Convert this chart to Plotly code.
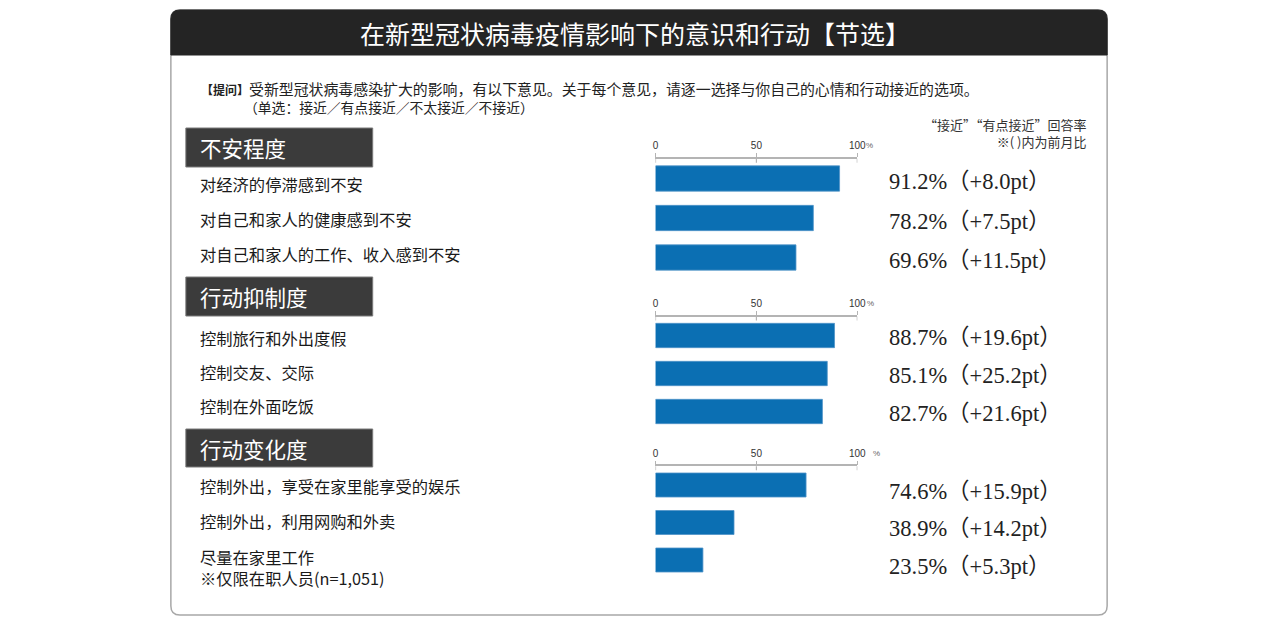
import plotly.graph_objects as go

W, H = 1280, 625
# the page comes out squeezed a little horizontally, so lay out on a slightly wider canvas
FW = 1291
XOFF = -2

title = "在新型冠状病毒疫情影响下的意识和行动【节选】"
q_tag = "【提问】"
question = "受新型冠状病毒感染扩大的影响，有以下意见。关于每个意见，请逐一选择与你自己的心情和行动接近的选项。"
question2 = "（单选：接近／有点接近／不太接近／不接近）"
note1 = "“接近”“有点接近”回答率"
note2 = "※( )内为前月比"

sections = ["不安程度", "行动抑制度", "行动变化度"]

items_anxiety = ["对经济的停滞感到不安", "对自己和家人的健康感到不安", "对自己和家人的工作、收入感到不安"]
pct_anxiety = [91.2, 78.2, 69.6]
diff_anxiety = [8.0, 7.5, 11.5]

items_restraint = ["控制旅行和外出度假", "控制交友、交际", "控制在外面吃饭"]
pct_restraint = [88.7, 85.1, 82.7]
diff_restraint = [19.6, 25.2, 21.6]

items_change = ["控制外出，享受在家里能享受的娱乐", "控制外出，利用网购和外卖", "尽量在家里工作<br>※仅限在职人员(n=1,051)"]
pct_change = [74.6, 38.9, 23.5]
diff_change = [15.9, 14.2, 5.3]

tick_vals = [0, 50, 100]
tick_text = ["0", "50", "100"]

# pixel layout of each block (top of bar area, row step, header box, label rows)
blocks = [
    dict(items=items_anxiety, pct=pct_anxiety, diff=diff_anxiety,
         top=158.75, step=39.5, head=(128, 167), label_y=[184, 219, 254], shift=-3, pctx=869),
    dict(items=items_restraint, pct=pct_restraint, diff=diff_restraint,
         top=316.5, step=38, head=(277, 316), label_y=[338, 372, 406], shift=-2, pctx=870),
    dict(items=items_change, pct=pct_change, diff=diff_change,
         top=466.25, step=37.5, head=(429, 467), label_y=[486, 521, 567], shift=-6, pctx=876),
]

BAR = "#0b6fb3"
AXIS = "#b4b4b4"
CJK = "Noto Sans CJK SC"


def px(x):
    return (x + XOFF) / W


def py(y):
    return 1 - y / H


def pt(x, y):
    return f"{px(x):.5f},{py(y):.5f}"


def rounded(x0, y0, x1, y1, r, bottom=True):
    p = f"M {pt(x0 + r, y0)} L {pt(x1 - r, y0)} Q {pt(x1, y0)} {pt(x1, y0 + r)} "
    if bottom:
        p += f"L {pt(x1, y1 - r)} Q {pt(x1, y1)} {pt(x1 - r, y1)} L {pt(x0 + r, y1)} Q {pt(x0, y1)} {pt(x0, y1 - r)} "
    else:
        p += f"L {pt(x1, y1)} L {pt(x0, y1)} "
    p += f"L {pt(x0, y0 + r)} Q {pt(x0, y0)} {pt(x0 + r, y0)} Z"
    return p


def note(text, x, y, size, color="#222", anchor="left", family=CJK, align="left"):
    return dict(text=text, x=px(x), y=py(y), xref="paper", yref="paper",
                showarrow=False, xanchor=anchor, yanchor="middle", align=align,
                font=dict(family=family, size=size, color=color))


fig = go.Figure()
shapes = []
annotations = []

# card and title bar
shapes.append(dict(type="path", xref="paper", yref="paper", layer="below",
                   path=rounded(170, 10, 1107, 615, 9),
                   fillcolor="white", line=dict(color="#a8a8a8", width=1.5)))
shapes.append(dict(type="path", xref="paper", yref="paper", layer="below",
                   path=rounded(170, 10, 1107, 55, 9, bottom=False),
                   fillcolor="#242424", line=dict(color="#242424", width=1)))
annotations.append(note(title, 634, 33, 25, "white", "center"))

annotations.append(note(f"<span style='font-size:12px'><b>{q_tag}</b></span>{question}", 198, 88, 14.9))
annotations.append(note(question2, 241, 107, 13.8))
annotations.append(note(f"{note1}<br>{note2}", 1089, 133, 13, "#333", "right", align="right"))

x0, x1 = 655, 857
for i, b in enumerate(blocks):
    n = i + 1
    xa = "x" if n == 1 else f"x{n}"
    ya = "y" if n == 1 else f"y{n}"
    top = b["top"]
    bottom = top + b["step"] * len(b["items"])

    fig.add_trace(go.Bar(x=b["pct"], y=b["items"], orientation="h", width=0.64,
                         marker=dict(color=BAR, line=dict(color="#4f93c8", width=0.8)),
                         xaxis=xa, yaxis=ya, hoverinfo="x+y", showlegend=False))

    fig.update_layout(**{
        ("xaxis" if n == 1 else f"xaxis{n}"): dict(
            domain=[px(x0), px(x1)], range=[0, 100], side="top", anchor=ya,
            showline=True, linecolor=AXIS, linewidth=1.5,
            ticks="outside", ticklen=4, tickcolor=AXIS, tickwidth=1.2,
            tickvals=tick_vals, ticktext=tick_text,
            tickfont=dict(family="Liberation Sans", size=10, color="#333"),
            showgrid=False, zeroline=False, fixedrange=True),
        ("yaxis" if n == 1 else f"yaxis{n}"): dict(
            domain=[py(bottom), py(top)], type="category", range=[len(b["items"]) - 0.5, -0.5],
            anchor=xa, showticklabels=False, showgrid=False, zeroline=False,
            showline=False, ticks="", fixedrange=True),
    })

    # downward half of the tick marks
    for v in tick_vals:
        shapes.append(dict(type="line", xref=xa, yref="paper", x0=v, x1=v,
                           y0=py(top), y1=py(top + 4), line=dict(color=AXIS, width=1.2)))

    annotations.append(note("%", b["pctx"], top - 13, 8, "#666", "center", "Liberation Sans"))

    # section header
    h0, h1 = b["head"]
    shapes.append(dict(type="rect", xref="paper", yref="paper", layer="below",
                       x0=px(185), x1=px(372), y0=py(h1), y1=py(h0),
                       fillcolor="#3b3b3b", line=dict(color="#7a7a7a", width=1)))
    annotations.append(note(sections[i], 197, (h0 + h1) / 2, 21.5, "white"))

    for label, ly in zip(b["items"], b["label_y"]):
        annotations.append(note(label, 197, ly, 16.3, "#1a1a1a"))

    for label, v, d in zip(b["items"], b["pct"], b["diff"]):
        annotations.append(dict(text=f"{v:.1f}%（+{d:.1f}pt）", x=px(887), y=label,
                                xref="paper", yref=ya, yshift=b["shift"],
                                showarrow=False, xanchor="left", yanchor="middle",
                                font=dict(family="Liberation Serif, " + CJK, size=22.5, color="#222")))

fig.update_layout(width=FW, height=H, margin=dict(l=0, r=0, t=0, b=0),
                  paper_bgcolor="white", plot_bgcolor="rgba(0,0,0,0)",
                  shapes=shapes, annotations=annotations, bargap=0.35)

# page margin would push the figure 8px off, drop it
fig.write_html("out.html", config={"displayModeBar": False},
               post_script="document.body.style.margin='0';document.body.style.overflow='hidden';")
